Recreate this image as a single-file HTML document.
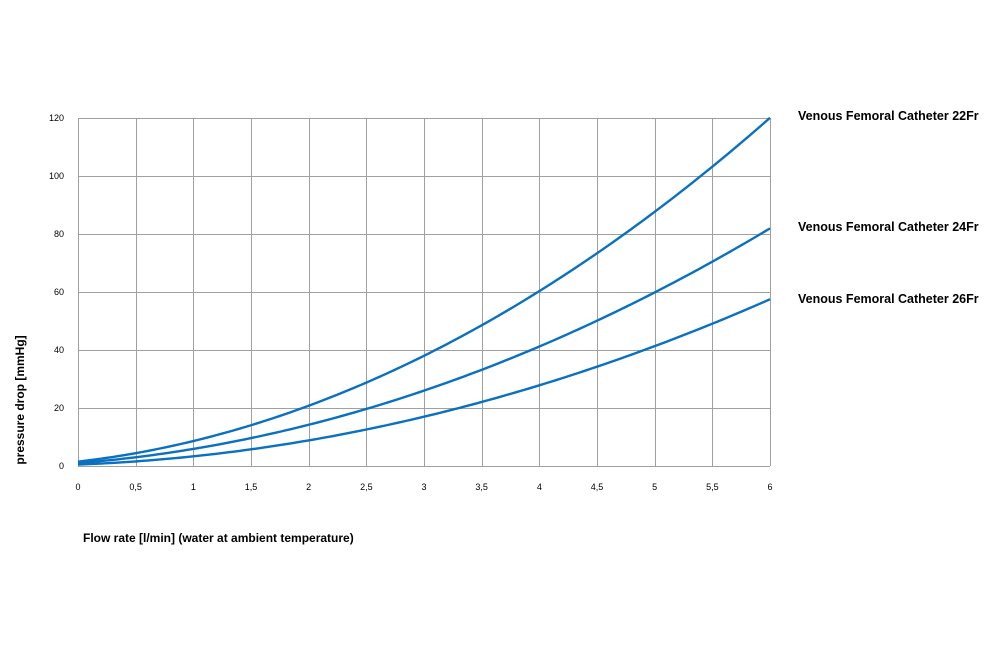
<!DOCTYPE html>
<html><head><meta charset="utf-8"><style>
body{margin:0;background:#fff;}
svg{display:block;font-family:"Liberation Sans",Arial,sans-serif;}
</style></head><body>
<svg id="s" width="1000" height="650" viewBox="0 0 1000 650" xmlns="http://www.w3.org/2000/svg">
<g id="grid" stroke="#a0a0a0" stroke-width="1" fill="none"></g>
<g id="curves" stroke="#0a70c0" stroke-width="2.4" fill="none"></g>
<g id="labels" font-size="9" fill="#000"></g>
<text x="798" y="120" font-size="12.5" font-weight="bold">Venous Femoral Catheter 22Fr</text>
<text x="798" y="231" font-size="12.5" font-weight="bold">Venous Femoral Catheter 24Fr</text>
<text x="798" y="303" font-size="12.5" font-weight="bold">Venous Femoral Catheter 26Fr</text>
<text x="83" y="542" font-size="12" font-weight="bold">Flow rate [l/min] (water at ambient temperature)</text>
<text transform="translate(24,400) rotate(-90)" font-size="12" font-weight="bold" text-anchor="middle">pressure drop [mmHg]</text>
</svg>
<script>
var NS="http://www.w3.org/2000/svg";
var x0=78,x1=770,y0=466,y1=118;
function X(v){return x0+(x1-x0)*v/6;}
function Y(v){return y0-(y0-y1)*v/120;}
var g=document.getElementById('grid'),lab=document.getElementById('labels');
function el(p,t,a){var e=document.createElementNS(NS,t);for(var k in a)e.setAttribute(k,a[k]);p.appendChild(e);return e;}
for(var i=0;i<=12;i++){var x=Math.round(X(i*0.5))+0.5;el(g,'line',{x1:x,y1:y1,x2:x,y2:y0});
 var t=el(lab,'text',{x:X(i*0.5),y:490,'text-anchor':'middle'});t.textContent=(i*0.5+'').replace('.',',');}
for(var j=0;j<=6;j++){var y=Math.round(Y(j*20))+0.5;el(g,'line',{x1:x0,y1:y,x2:x1,y2:y});
 var t=el(lab,'text',{x:64,y:Y(j*20)+3,'text-anchor':'end'});t.textContent=j*20;}
var cs=[[2.53,4.58,1.5],[1.72,3.17,1],[1.333,1.5,0.5]];
var cg=document.getElementById('curves');
cs.forEach(function(c){var d='';for(var k=0;k<=120;k++){var v=k*0.05;var p=c[0]*v*v+c[1]*v+c[2];d+=(k?'L':'M')+X(v).toFixed(2)+' '+Y(p).toFixed(2);}el(cg,'path',{d:d});});
</script>
</body></html>
